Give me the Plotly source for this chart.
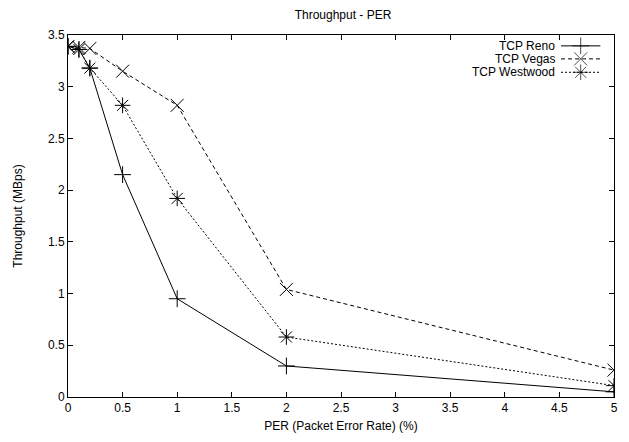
import plotly.graph_objects as go

per = [0, 0.1, 0.2, 0.5, 1, 2, 5]
reno = [3.39, 3.36, 3.18, 2.15, 0.95, 0.30, 0.05]
vegas = [3.39, 3.38, 3.37, 3.15, 2.82, 1.04, 0.26]
westwood = [3.39, 3.36, 3.18, 2.82, 1.92, 0.58, 0.11]

names = ["TCP Reno", "TCP Vegas", "TCP Westwood"]
series = [reno, vegas, westwood]
dashes = ["solid", "4px,3px", "2px,2px"]
symbols = ["cross-thin-open", "x-thin-open", "asterisk-open"]
msizes = [12, 13, 13]

xticks = [0, 0.5, 1, 1.5, 2, 2.5, 3, 3.5, 4, 4.5, 5]
yticks = [0, 0.5, 1, 1.5, 2, 2.5, 3, 3.5]

FONT = "Liberation Sans, Arial, sans-serif"
FS = 12

fig = go.Figure()
for n, s, d, sym, ms in zip(names, series, dashes, symbols, msizes):
    fig.add_trace(go.Scatter(
        x=per, y=s, name=n, mode="lines+markers",
        line=dict(color="black", width=1, dash=d),
        marker=dict(symbol=sym, size=ms, color="black",
                    line=dict(color="black", width=1)),
        showlegend=False,
    ))

# manual gnuplot-style legend (text right-aligned, sample on the right)
row_y = [0.970, 0.934, 0.897]
for n, d, sym, ms, yy in zip(names, dashes, symbols, msizes, row_y):
    fig.add_trace(go.Scatter(
        x=[0.903, 0.939, 0.975], y=[yy, yy, yy], xaxis="x2", yaxis="y2",
        mode="lines+markers", showlegend=False, hoverinfo="skip",
        line=dict(color="black", width=1, dash=d),
        marker=dict(symbol=sym, size=[0, ms, 0], color="black",
                    line=dict(color="black", width=1)),
    ))
    fig.add_annotation(x=0.896, y=yy, xref="paper", yref="paper",
                       text=n, showarrow=False, xanchor="right",
                       yanchor="middle",
                       font=dict(family=FONT, size=FS, color="black"))

axis_common = dict(
    showline=True, linecolor="black", linewidth=1, mirror="ticks",
    ticks="inside", ticklen=5, tickcolor="black", tickwidth=1,
    showgrid=False, zeroline=False,
    tickfont=dict(family=FONT, size=FS, color="black"),
)

fig.update_layout(
    width=629, height=442,
    margin=dict(l=68, r=11, t=35, b=38),
    paper_bgcolor="white", plot_bgcolor="white",
    title=dict(text="Throughput - PER", x=343 / 629, xanchor="center",
               y=1 - 15 / 442, yanchor="middle",
               font=dict(family=FONT, size=FS, color="black")),
    xaxis=dict(range=[0, 5], tickvals=xticks,
               ticktext=[f"{v:g}" for v in xticks],
               title=dict(text="PER (Packet Error Rate) (%)", standoff=7,
                          font=dict(family=FONT, size=FS, color="black")),
               **axis_common),
    yaxis=dict(range=[0, 3.5], tickvals=yticks,
               ticktext=[f"{v:g}" for v in yticks],
               title=dict(text="Throughput (MBps)", standoff=22,
                          font=dict(family=FONT, size=FS, color="black")),
               **axis_common),
    xaxis2=dict(range=[0, 1], overlaying="x", visible=False),
    yaxis2=dict(range=[0, 1], overlaying="y", visible=False),
    showlegend=False,
)

fig.write_html("out.html",
               config={"displayModeBar": False},
               post_script="document.body.style.margin='0';"
                           "document.body.style.overflow='hidden';")
